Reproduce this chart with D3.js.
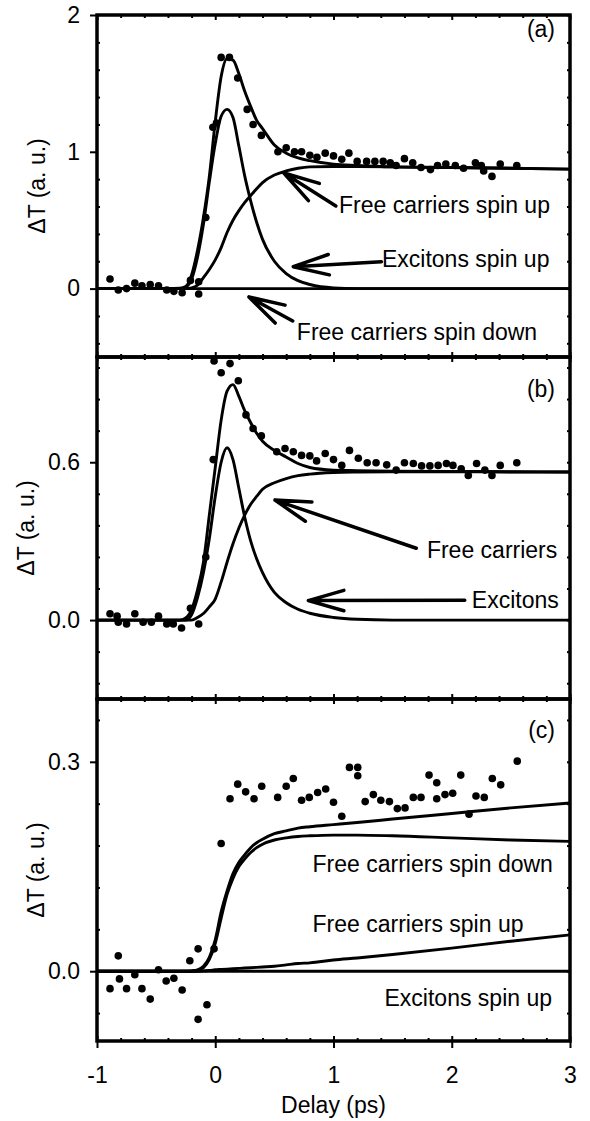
<!DOCTYPE html>
<html>
<head>
<meta charset="utf-8">
<script src="https://cdn.jsdelivr.net/npm/d3@7"></script>
<style>
  body { margin: 0; background: #fff; }
  svg text { font-family: "Liberation Sans", Arial, sans-serif; fill: #000; }
</style>
</head>
<body>
<div id="chart"></div>
<script>
const delay = [-1, -0.4, -0.3, -0.25, -0.2, -0.15, -0.1, -0.05, 0, 0.05, 0.1, 0.15, 0.2, 0.25, 0.3, 0.35, 0.4, 0.5, 0.6, 0.7, 0.8, 1.0, 1.2, 1.5, 2.0, 2.5, 3.0];

// panel (a)
const aSum = [0, 0, 0.003, 0.015, 0.1, 0.28, 0.52, 0.82, 1.22, 1.55, 1.68, 1.67, 1.57, 1.44, 1.33, 1.23, 1.17, 1.05, 0.99, 0.955, 0.935, 0.91, 0.9, 0.89, 0.885, 0.88, 0.873];
const aExcitonsUp = [0, 0, 0, 0.01, 0.07, 0.23, 0.47, 0.78, 1.06, 1.26, 1.31, 1.25, 1.04, 0.82, 0.64, 0.485, 0.36, 0.2, 0.11, 0.058, 0.03, 0.005, 0, 0, 0, 0, 0];
const aFreeUp = [0, 0, 0, 0, 0.005, 0.025, 0.08, 0.14, 0.21, 0.3, 0.41, 0.5, 0.57, 0.63, 0.68, 0.73, 0.775, 0.83, 0.86, 0.88, 0.89, 0.893, 0.892, 0.89, 0.885, 0.88, 0.873];
const aFreeDown = [0, 0, 0, 0, 0, 0, 0, 0, 0, 0, 0, 0, 0, 0, 0, 0, 0, 0, 0, 0, 0, 0, 0, 0, 0, 0, 0];
const aPoints = [[-0.89,0.07],[-0.82,-0.01],[-0.75,0.0],[-0.68,0.04],[-0.62,0.02],[-0.55,0.03],[-0.48,0.02],[-0.41,-0.01],[-0.35,-0.02],[-0.28,-0.03],[-0.21,0.06],[-0.14,0.05],[-0.14,-0.04],[-0.08,0.52],[-0.02,1.18],[0.01,1.21],[0.05,1.69],[0.12,1.69],[0.19,1.54],[0.27,1.31],[0.32,1.2],[0.39,1.12],[0.53,1.0],[0.6,1.03],[0.67,1.0],[0.73,1.0],[0.8,0.975],[0.86,0.96],[0.93,0.99],[1.0,0.97],[1.07,0.945],[1.13,0.99],[1.2,0.93],[1.28,0.93],[1.35,0.93],[1.42,0.93],[1.48,0.92],[1.53,0.9],[1.6,0.95],[1.67,0.92],[1.74,0.885],[1.82,0.87],[1.88,0.9],[1.95,0.91],[2.03,0.9],[2.1,0.88],[2.2,0.92],[2.25,0.9],[2.27,0.86],[2.34,0.82],[2.41,0.91],[2.55,0.9]];

// panel (b)
const bSum = [0, 0, 0, 0.008, 0.04, 0.115, 0.22, 0.4, 0.58, 0.76, 0.87, 0.895, 0.85, 0.795, 0.75, 0.71, 0.68, 0.645, 0.62, 0.595, 0.58, 0.57, 0.568, 0.566, 0.565, 0.564, 0.563];
const bExcitons = [0, 0, 0, 0, 0.02, 0.085, 0.18, 0.31, 0.47, 0.6, 0.655, 0.61, 0.5, 0.39, 0.3, 0.233, 0.18, 0.105, 0.066, 0.041, 0.026, 0.01, 0.003, 0, 0, 0, 0];
const bFree = [0, 0, 0, 0, 0, 0.01, 0.025, 0.05, 0.08, 0.145, 0.22, 0.29, 0.35, 0.4, 0.44, 0.47, 0.497, 0.522, 0.538, 0.549, 0.555, 0.561, 0.563, 0.564, 0.564, 0.563, 0.563];
const bPoints = [[-0.89,0.024],[-0.83,0.015],[-0.82,-0.008],[-0.75,-0.015],[-0.68,0.024],[-0.61,-0.008],[-0.54,-0.008],[-0.48,0.015],[-0.41,-0.015],[-0.355,-0.015],[-0.285,-0.03],[-0.21,0.045],[-0.14,-0.015],[-0.08,0.24],[-0.017,0.61],[-0.01,0.985],[0.05,0.94],[0.125,0.975],[0.195,0.91],[0.26,0.78],[0.32,0.728],[0.39,0.70],[0.52,0.64],[0.59,0.652],[0.66,0.64],[0.73,0.626],[0.80,0.624],[0.857,0.605],[0.93,0.633],[1.0,0.61],[1.07,0.588],[1.135,0.645],[1.21,0.615],[1.285,0.598],[1.36,0.598],[1.45,0.59],[1.53,0.57],[1.6,0.598],[1.675,0.595],[1.745,0.586],[1.815,0.586],[1.885,0.588],[1.955,0.595],[2.01,0.588],[2.08,0.575],[2.14,0.55],[2.21,0.595],[2.28,0.57],[2.34,0.55],[2.41,0.588],[2.55,0.598]];

// panel (c)
const cSum = [0, 0, 0, 0, 0.0005, 0.002, 0.007, 0.02, 0.045, 0.085, 0.115, 0.14, 0.156, 0.167, 0.177, 0.184, 0.189, 0.197, 0.201, 0.205, 0.207, 0.21, 0.213, 0.218, 0.226, 0.234, 0.241];
const cFreeDown = [0, 0, 0, 0, 0, 0.001, 0.005, 0.017, 0.04, 0.076, 0.11, 0.133, 0.15, 0.161, 0.17, 0.177, 0.182, 0.188, 0.191, 0.193, 0.194, 0.195, 0.195, 0.194, 0.191, 0.188, 0.186];
const cFreeUp = [0, 0, 0, 0, 0, 0, 0.0005, 0.001, 0.002, 0.0025, 0.003, 0.0035, 0.004, 0.0045, 0.005, 0.0055, 0.006, 0.007, 0.009, 0.011, 0.012, 0.016, 0.019, 0.024, 0.033, 0.043, 0.052];
const cExcitonsUp = [0, 0, 0, 0, 0, 0, 0, 0, 0, 0, 0, 0, 0, 0, 0, 0, 0, 0, 0, 0, 0, 0, 0, 0, 0, 0, 0];
const cPoints = [[-0.89,-0.025],[-0.82,0.022],[-0.81,-0.011],[-0.75,-0.025],[-0.68,-0.005],[-0.62,-0.025],[-0.55,-0.04],[-0.48,0.002],[-0.415,-0.014],[-0.35,-0.01],[-0.28,-0.027],[-0.215,0.015],[-0.145,0.032],[-0.145,-0.069],[-0.07,-0.048],[-0.01,0.032],[0.05,0.183],[0.125,0.247],[0.19,0.268],[0.257,0.257],[0.328,0.247],[0.393,0.265],[0.528,0.249],[0.6,0.265],[0.66,0.276],[0.73,0.245],[0.795,0.249],[0.866,0.256],[0.934,0.261],[1.0,0.242],[1.07,0.222],[1.135,0.292],[1.205,0.292],[1.205,0.28],[1.268,0.243],[1.337,0.253],[1.4,0.245],[1.473,0.243],[1.54,0.233],[1.605,0.234],[1.675,0.249],[1.74,0.249],[1.808,0.281],[1.873,0.27],[1.873,0.247],[1.943,0.253],[2.008,0.255],[2.076,0.281],[2.146,0.225],[2.205,0.251],[2.275,0.249],[2.343,0.276],[2.414,0.267],[2.554,0.301]];

// tick values
const xMajor = [-1, 0, 1, 2, 3];
const xMinor = [-0.8, -0.6, -0.4, -0.2, 0.2, 0.4, 0.6, 0.8, 1.2, 1.4, 1.6, 1.8, 2.2, 2.4, 2.6, 2.8];
const aMajor = [0, 1, 2], aMinor = [-0.4, -0.2, 0.2, 0.4, 0.6, 0.8, 1.2, 1.4, 1.6, 1.8];
const bMajor = [0, 0.6], bMinor = [-0.24, -0.12, 0.12, 0.24, 0.36, 0.48, 0.72, 0.84, 0.96];
const cMajor = [0, 0.3], cMinor = [-0.06, 0.06, 0.12, 0.18, 0.24, 0.36];

// set the dimensions and margins of the graph
var margin = { top: 15, left: 97 },
    width = 570 - 97,
    panelHeight = 342;

var svg = d3.select("#chart")
    .append("svg")
    .attr("width", 590)
    .attr("height", 1121)
    .append("g")
    .attr("transform", "translate(" + margin.left + "," + margin.top + ")");

var x = d3.scaleLinear().domain([-1, 3]).range([0, width]);

var panels = [
    { tag: "(a)", tagDy: 22, domain: [-0.5, 2], major: aMajor, minor: aMinor, fmt: d3.format("d"), titleX: 45,
      curves: [aFreeDown, aExcitonsUp, aFreeUp, aSum], points: aPoints,
      notes: [
          { text: "Free carriers spin up", at: [1.047, 0.553], tip: [0.58, 0.845], tail: [1.02, 0.604] },
          { text: "Excitons spin up", at: [1.41, 0.158], tip: [0.66, 0.16], tail: [1.405, 0.197] },
          { text: "Free carriers spin down", at: [0.69, -0.376], tip: [0.285, -0.061], tail: [0.655, -0.237] }
      ] },
    { tag: "(b)", tagDy: 40, domain: [-0.3, 1.0], major: bMajor, minor: bMinor, fmt: d3.format(".1f"), titleX: 33.5,
      curves: [bExcitons, bFree, bSum], points: bPoints,
      notes: [
          { text: "Free carriers", at: [1.79, 0.236], tip: [0.505, 0.456], tail: [1.70, 0.273] },
          { text: "Excitons", at: [2.17, 0.046], tip: [0.787, 0.074], tail: [2.11, 0.075] }
      ] },
    { tag: "(c)", tagDy: 39, domain: [-0.1, 0.39], major: cMajor, minor: cMinor, fmt: d3.format(".1f"), titleX: 43.5,
      curves: [cExcitonsUp, cFreeUp, cFreeDown, cSum], points: cPoints,
      notes: [
          { text: "Free carriers spin down", at: [0.823, 0.142] },
          { text: "Free carriers spin up", at: [0.823, 0.0566] },
          { text: "Excitons spin up", at: [2.848, -0.05], anchor: "end" }
      ] }
];

// arrow with an open head at the tip
function drawArrow(g, y, tip, tail) {
    var x1 = x(tip[0]), y1 = y(tip[1]), x2 = x(tail[0]), y2 = y(tail[1]);
    var ang = Math.atan2(y2 - y1, x2 - x1), len = 37, spread = 16 * Math.PI / 180;
    var p = d3.path();
    p.moveTo(x2, y2); p.lineTo(x1, y1);
    p.moveTo(x1 + len * Math.cos(ang - spread), y1 + len * Math.sin(ang - spread));
    p.lineTo(x1, y1);
    p.lineTo(x1 + len * Math.cos(ang + spread), y1 + len * Math.sin(ang + spread));
    g.append("path")
        .attr("d", p.toString())
        .attr("fill", "none")
        .attr("stroke", "#000")
        .attr("stroke-width", 3.5)
        .attr("stroke-linecap", "round")
        .attr("stroke-linejoin", "round");
}

function styleTicks(sel) {
    sel.select(".domain").remove();
    sel.selectAll("line").attr("stroke", "#000").attr("stroke-width", 2);
    sel.selectAll("text").style("font-size", "23px").attr("fill", "#000");
}

panels.forEach(function (p, i) {
    var g = svg.append("g").attr("transform", "translate(0," + (i * panelHeight) + ")");
    var y = d3.scaleLinear().domain(p.domain).range([panelHeight, 0]);

    // curves
    var line = d3.line()
        .x(function (d, k) { return x(delay[k]); })
        .y(function (d) { return y(d); })
        .curve(d3.curveMonotoneX);
    p.curves.forEach(function (c) {
        g.append("path")
            .datum(c)
            .attr("d", line)
            .attr("fill", "none")
            .attr("stroke", "#000")
            .attr("stroke-width", 2.9);
    });

    // measured points
    g.selectAll("circle.pt")
        .data(p.points)
        .enter()
        .append("circle")
        .attr("class", "pt")
        .attr("cx", function (d) { return x(d[0]); })
        .attr("cy", function (d) { return y(d[1]); })
        .attr("r", 3.8)
        .attr("fill", "#000");

    // axes: major ticks outward with labels, minor ticks inward
    g.append("g")
        .call(d3.axisLeft(y).tickValues(p.major).tickSize(7).tickPadding(10).tickFormat(p.fmt))
        .call(styleTicks);
    g.append("g").call(d3.axisLeft(y).tickValues(p.minor).tickSize(-3).tickFormat("")).call(styleTicks);
    g.append("g").attr("transform", "translate(" + width + ",0)")
        .call(d3.axisRight(y).tickValues(p.minor.concat(p.major)).tickSize(-3).tickFormat("")).call(styleTicks);
    g.append("g").call(d3.axisTop(x).tickValues(xMinor).tickSize(-3).tickFormat("")).call(styleTicks);
    g.append("g").call(d3.axisTop(x).tickValues(xMajor).tickSize(-5).tickFormat("")).call(styleTicks);
    g.append("g").attr("transform", "translate(0," + panelHeight + ")")
        .call(d3.axisBottom(x).tickValues(xMinor).tickSize(-3).tickFormat("")).call(styleTicks);
    g.append("g").attr("transform", "translate(0," + panelHeight + ")")
        .call(d3.axisBottom(x).tickValues(xMajor).tickSize(-5).tickFormat("")).call(styleTicks);
    if (i === panels.length - 1) {
        g.append("g").attr("transform", "translate(0," + panelHeight + ")")
            .call(d3.axisBottom(x).tickValues(xMajor).tickSize(7).tickPadding(19).tickFormat(function (d) { return String(d); }))
            .call(styleTicks);
    }

    // frame
    g.append("rect")
        .attr("width", width)
        .attr("height", panelHeight)
        .attr("fill", "none")
        .attr("stroke", "#000")
        .attr("stroke-width", 3.5);

    // y title
    g.append("text")
        .attr("transform", "translate(" + (p.titleX - margin.left) + "," + (panelHeight / 2) + ") rotate(-90)")
        .attr("text-anchor", "middle")
        .style("font-size", "23px")
        .text("\u0394T (a. u.)");

    // panel tag
    g.append("text")
        .attr("x", width - 15)
        .attr("y", y(p.domain[1]) + p.tagDy)
        .attr("text-anchor", "end")
        .style("font-size", "23px")
        .text(p.tag);

    // annotations
    p.notes.forEach(function (n) {
        g.append("text")
            .attr("x", x(n.at[0]))
            .attr("y", y(n.at[1]))
            .attr("text-anchor", n.anchor || "start")
            .style("font-size", "23px")
            .text(n.text);
        if (n.tip) drawArrow(g, y, n.tip, n.tail);
    });
});

// x axis title
svg.append("text")
    .attr("x", width / 2)
    .attr("y", 1113 - margin.top)
    .attr("text-anchor", "middle")
    .style("font-size", "23px")
    .text("Delay (ps)");
</script>
</body>
</html>
